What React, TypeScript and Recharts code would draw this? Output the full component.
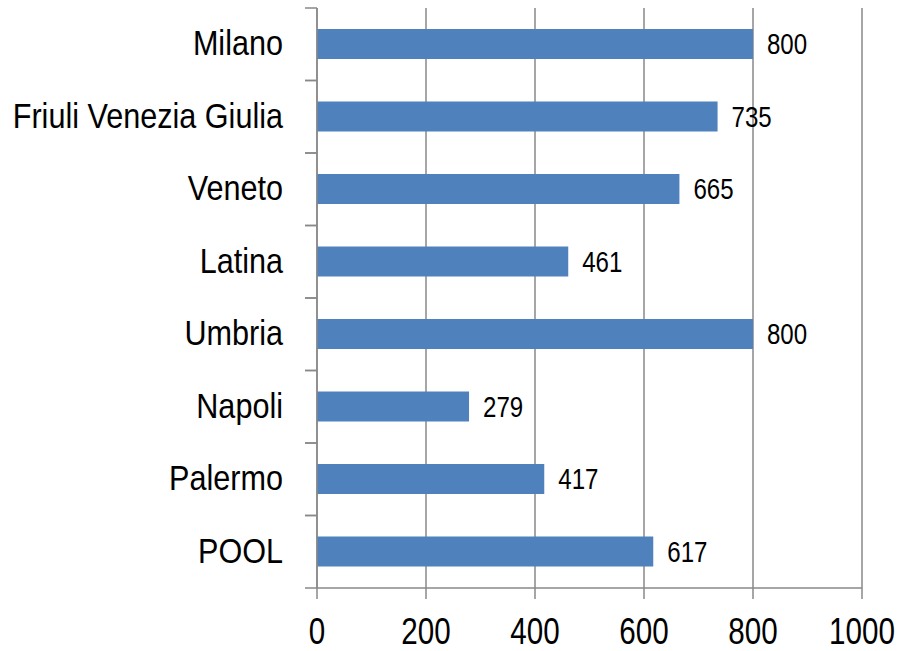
import { BarChart, Bar, XAxis, YAxis, CartesianGrid, LabelList } from "recharts";

const categories = [
  "Milano",
  "Friuli Venezia Giulia",
  "Veneto",
  "Latina",
  "Umbria",
  "Napoli",
  "Palermo",
  "POOL",
];
const values = [800, 735, 665, 461, 800, 279, 417, 617];
const xTicks = [0, 200, 400, 600, 800, 1000];

const data = categories.map((name, i) => ({ name, value: values[i] }));

// Arial Narrow 대용: Liberation Sans 를 가로로 눌러서 사용
const FONT = "'Liberation Sans', Arial, sans-serif";
const AXIS = "#888888";
const TICK_SIZE = 12;
const TICK_MARGIN = 22;

function NarrowText({
  x,
  y,
  size,
  squeeze,
  anchor,
  dy,
  children,
}: {
  x: number;
  y: number;
  size: number;
  squeeze: number;
  anchor: "start" | "middle" | "end";
  dy: string;
  children: React.ReactNode;
}) {
  return (
    <text
      transform={`translate(${x},${y}) scale(${squeeze},1)`}
      x={0}
      y={0}
      dy={dy}
      textAnchor={anchor}
      fontSize={size}
      fontFamily={FONT}
      fill="#000"
    >
      {children}
    </text>
  );
}

/** 라벨은 밴드 중앙, 눈금선은 밴드 경계에 */
function CategoryTick(props: {
  x?: number;
  y?: number;
  payload?: { value: string; offset?: number };
}) {
  const { x = 0, y = 0, payload } = props;
  if (!payload) return null;
  const half = payload.offset ?? 0;
  const x1 = x + TICK_MARGIN;
  const x2 = x1 + TICK_SIZE;
  return (
    <g>
      <line x1={x1} x2={x2} y1={y - half} y2={y - half} stroke={AXIS} strokeWidth={1.5} />
      <line x1={x1} x2={x2} y1={y + half} y2={y + half} stroke={AXIS} strokeWidth={1.5} />
      <NarrowText x={x} y={y} size={36} squeeze={0.85} anchor="end" dy="0.3em">
        {payload.value}
      </NarrowText>
    </g>
  );
}

function ValueTick(props: { x?: number; y?: number; payload?: { value: number } }) {
  const { x = 0, y = 0, payload } = props;
  if (!payload) return null;
  return (
    <NarrowText x={x} y={y} size={37} squeeze={0.8} anchor="middle" dy="0.71em">
      {payload.value}
    </NarrowText>
  );
}

function BarValue(props: {
  x?: number | string;
  y?: number | string;
  width?: number | string;
  height?: number | string;
  value?: number | string;
}) {
  const x = Number(props.x ?? 0);
  const y = Number(props.y ?? 0);
  const w = Number(props.width ?? 0);
  const h = Number(props.height ?? 0);
  return (
    <NarrowText x={x + w + 14} y={y + h / 2} size={29} squeeze={0.83} anchor="start" dy="0.35em">
      {props.value}
    </NarrowText>
  );
}

export default function App() {
  return (
    <div style={{ position: "absolute", left: 0, top: 0, background: "#fff" }}>
      <BarChart
        width={900}
        height={651}
        data={data}
        layout="vertical"
        margin={{ top: 8, right: 38, left: 0, bottom: 0 }}
        barCategoryGap={21}
      >
        <CartesianGrid horizontal={false} stroke={AXIS} strokeWidth={1.5} />
        <XAxis
          type="number"
          domain={[0, 1000]}
          ticks={xTicks}
          height={63}
          tickSize={11}
          tickMargin={19}
          stroke={AXIS}
          strokeWidth={1.5}
          tick={<ValueTick />}
        />
        <YAxis
          type="category"
          dataKey="name"
          width={317}
          tickLine={false}
          tickSize={TICK_SIZE}
          tickMargin={TICK_MARGIN}
          stroke={AXIS}
          strokeWidth={1.5}
          tick={<CategoryTick />}
        />
        <Bar dataKey="value" fill="#4F81BD" barSize={30} isAnimationActive={false}>
          <LabelList dataKey="value" content={<BarValue />} />
        </Bar>
      </BarChart>
    </div>
  );
}
